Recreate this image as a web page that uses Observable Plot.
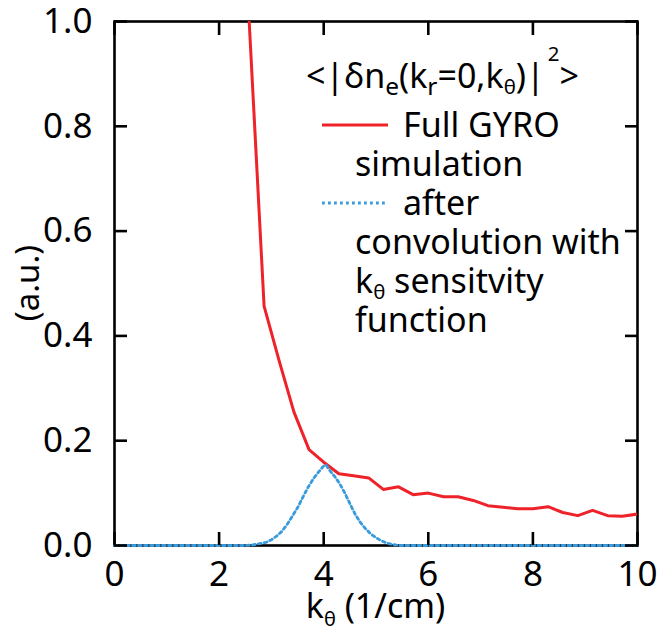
<!DOCTYPE html>
<html><head><meta charset="utf-8">
<script src="https://cdn.jsdelivr.net/npm/d3@7"></script>
<script src="https://cdn.jsdelivr.net/npm/@observablehq/plot@0.6"></script>
<style>
html,body{margin:0;padding:0;background:#fff;}
#wrap{position:relative;width:658px;height:633px;font-family:"Noto Sans",sans-serif;color:#000;}
#chart svg{display:block;}
.lg{position:absolute;font-size:34px;line-height:1;white-space:nowrap;}
.sb{position:relative;top:0.3em;font-size:0.72em;line-height:0;}
.th{font-size:0.6em;}
.sp{position:relative;top:-1.3em;font-size:0.6em;line-height:0;margin-left:3px;}
.sw{position:absolute;overflow:visible;}
</style></head><body>
<div id="wrap"><div id="chart"></div></div>
<script>
// ---- data ----
const fullK = [2.57, 2.86, 3.15, 3.43, 3.72, 4.00, 4.29, 4.57, 4.86, 5.14, 5.43, 5.71, 6.00, 6.29, 6.57, 6.86, 7.14, 7.43, 7.71, 8.00, 8.29, 8.57, 8.86, 9.14, 9.43, 9.71, 10.0];
const fullV = [1.01, 0.457, 0.352, 0.255, 0.183, 0.159, 0.137, 0.133, 0.129, 0.107, 0.112, 0.097, 0.100, 0.093, 0.093, 0.086, 0.076, 0.073, 0.070, 0.070, 0.074, 0.063, 0.057, 0.067, 0.057, 0.056, 0.060];
const convK = [0, 2.5, 2.7, 2.9, 3.0, 3.1, 3.2, 3.3, 3.4, 3.5, 3.6, 3.7, 3.8, 3.9, 4.0, 4.05, 4.1, 4.2, 4.3, 4.4, 4.5, 4.6, 4.7, 4.8, 4.9, 5.0, 5.1, 5.2, 5.3, 5.45, 10];
const convV = [0, 0, 0.002, 0.006, 0.011, 0.018, 0.027, 0.040, 0.056, 0.072, 0.092, 0.111, 0.127, 0.140, 0.152, 0.153, 0.145, 0.133, 0.119, 0.101, 0.080, 0.060, 0.044, 0.032, 0.022, 0.015, 0.009, 0.005, 0.002, 0, 0];
const xTicks = [0, 2, 4, 6, 8, 10];
const yTicks = [0, 0.2, 0.4, 0.6, 0.8, 1.0];
const yTickLabels = ["0.0", "0.2", "0.4", "0.6", "0.8", "1.0"];
const xLabelMain = "k", xLabelSub = "θ", xLabelRest = " (1/cm)";
const yLabel = "(a.u.)";
const legendTitle = '&lt;|δn<span class="sb">e</span>(k<span class="sb">r</span>=0,k<span class="sb th">θ</span>)|<span class="sp">2</span>&gt;';
const seriesNames = ["Full GYRO", "after"];
const seriesExtra = [["simulation"], ["convolution with", 'k<span class="sb th">θ</span> sensitvity', "function"]];

const RED = "#ee2229", BLUE = "#3a9bdc";
const FONT = '"Noto Sans", sans-serif';
const FS = 35;

const full = fullK.map((k, i) => ({k, v: fullV[i]}));
const conv = convK.map((k, i) => ({k, v: convV[i]}));

const plot = Plot.plot({
  width: 658, height: 633,
  marginLeft: 114, marginRight: 21, marginTop: 21, marginBottom: 88,
  style: {fontFamily: FONT, fontSize: FS + "px", color: "#000", background: "#fff", overflow: "visible"},
  x: {domain: [0, 10]},
  y: {domain: [0, 1]},
  marks: [
    Plot.frame({stroke: "#000", strokeWidth: 2.6}),
    Plot.line(full, {x: "k", y: "v", stroke: RED, strokeWidth: 3, clip: true}),
    Plot.line(conv, {x: "k", y: "v", stroke: BLUE, strokeWidth: 2.8, strokeDasharray: "2.8,3.2"}),
    Plot.axisX(xTicks, {anchor: "bottom", tickSize: -13, tickPadding: 29, strokeWidth: 2.6, tickFormat: d => String(d), label: null, fontSize: FS}),
    Plot.axisX(xTicks, {anchor: "top", tickSize: -13, strokeWidth: 2.6, tickFormat: () => "", label: null}),
    Plot.axisY(yTicks, {anchor: "left", tickSize: -13, tickPadding: 35, strokeWidth: 2.6, tickFormat: d => yTickLabels[yTicks.indexOf(d)], label: null, fontSize: FS}),
    Plot.axisY(yTicks, {anchor: "right", tickSize: -13, strokeWidth: 2.6, tickFormat: () => "", label: null})
  ]
});
document.getElementById("chart").appendChild(plot);

// axis titles positioned via the plot's scales
const xs = plot.scale("x"), ys = plot.scale("y");
const svg = d3.select(plot);
const xl = svg.append("text").attr("x", xs.apply(5)).attr("y", 618)
  .attr("text-anchor", "middle").attr("font-size", 34).attr("font-family", FONT);
xl.append("tspan").text(xLabelMain);
xl.append("tspan").attr("dy", 8).attr("font-size", 20).text(xLabelSub);
xl.append("tspan").attr("dy", -8).text(xLabelRest);
const ymid = ys.apply(0.5);
svg.append("text").attr("transform", `translate(39,${ymid}) rotate(-90)`)
  .attr("text-anchor", "middle").attr("font-size", 33).attr("font-family", FONT).text(yLabel);

// legend
const wrap = document.getElementById("wrap");
function addText(html, left, baseline) {
  const d = document.createElement("div");
  d.className = "lg";
  d.style.left = left + "px";
  d.style.top = (baseline - 30.2) + "px";
  d.innerHTML = html;
  wrap.appendChild(d);
}
addText(legendTitle, 306, 88);
const colors = [RED, BLUE];
const dashes = [null, "2.8,3.2"];
let base = 137;
seriesNames.forEach((name, i) => {
  const s = document.createElementNS("http://www.w3.org/2000/svg", "svg");
  s.setAttribute("class", "sw");
  s.setAttribute("width", 66); s.setAttribute("height", 10);
  s.style.left = "322px"; s.style.top = (base - 17) + "px";
  const l = document.createElementNS("http://www.w3.org/2000/svg", "line");
  l.setAttribute("x1", 0); l.setAttribute("x2", 66); l.setAttribute("y1", 5); l.setAttribute("y2", 5);
  l.setAttribute("stroke", colors[i]); l.setAttribute("stroke-width", i === 0 ? 3 : 2.8);
  if (dashes[i]) l.setAttribute("stroke-dasharray", dashes[i]);
  s.appendChild(l); wrap.appendChild(s);
  addText(name, 403, base);
  base += 39;
  seriesExtra[i].forEach(t => { addText(t, 355, base); base += 39; });
});
</script>
</body></html>
